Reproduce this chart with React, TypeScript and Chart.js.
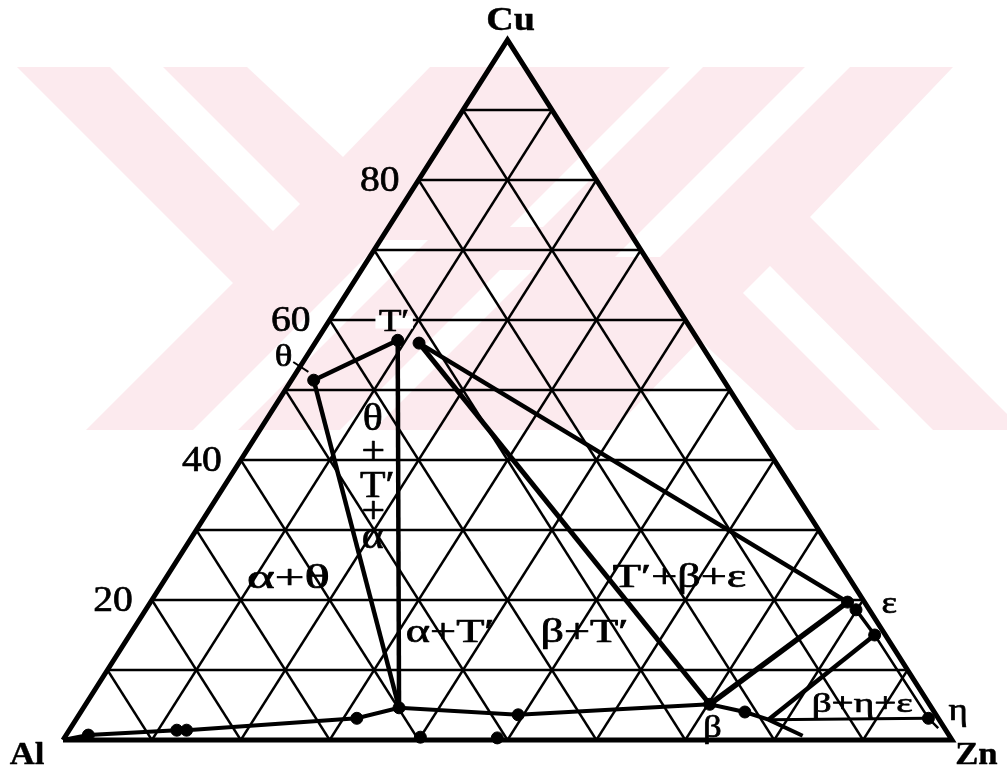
import React, { useEffect, useRef } from "react";
import { Chart, registerables } from "chart.js";
Chart.register(...registerables);

type Tern = [number, number]; // [Cu %, Zn %]  (Al = 100 - Cu - Zn)

// ---- axis structure ----
const CORNERS: Tern[] = [[0, 0], [0, 100], [100, 0]]; // Al, Zn, Cu
const GRID_LEVELS = [10, 20, 30, 40, 50, 60, 70, 80, 90];
const TICK_LEVELS = [20, 40, 60, 80];
const TICK_LABELS = ["20", "40", "60", "80"];

// ---- phase points (Cu %, Zn %) ----
const THETA: Tern = [51.4, 2.5];
const T_PRIME: Tern = [57.1, 9.1];
const T_PRIME_2: Tern = [56.7, 11.7];
const ALPHA: Tern = [4.6, 35.5];
const BETA: Tern = [5.1, 70.2];
const EPS_1: Tern = [19.7, 78.4];
const EPS_2: Tern = [18.6, 79.9];
const EPS_3: Tern = [15.0, 83.8];
const ETA: Tern = [3.1, 95.8];
const ETA_END: Tern = [1.7, 97.6];
const BETA_EDGE: Tern = [2.9, 77.9];

const LIQUIDUS: Tern[] = [[0, 0], [0.7, 2.5], [1.4, 12.1], [1.4, 13.2], [3.1, 31.5], ALPHA, [3.6, 49.4], BETA, [4.0, 74.7], BETA_EDGE, [0.6, 82.9]];
const EXTRA_POINTS: Tern[] = [[0.7, 2.5], [1.4, 12.1], [1.4, 13.2], [3.1, 31.5], [0.4, 40.0], [0.3, 48.7], [3.6, 49.4], [4.0, 74.7]];
const PHASE_POINTS: Tern[] = [THETA, T_PRIME, T_PRIME_2, ALPHA, BETA, EPS_1, EPS_2, EPS_3, ETA];
const THETA_LEADER: Tern[] = [[54.0, -1.1], [52.6, 1.3]];

// ---- labels ----
const CORNER_LABELS = ["Al", "Zn", "Cu"];
const CORNER_LABEL_POS: Tern[] = [[-2.3, -2.9], [-2.3, 103.9], [102.7, -1.0]];
const REGION_LABELS = ["α+θ", "α+T′", "β+T′", "T′+β+ε", "β+η+ε"];
const REGION_LABEL_POS: Tern[] = [[22.9, 13.9], [15.3, 35.9], [15.3, 51.0], [23.1, 57.8], [5.0, 87.4]];
const STACK_LABELS = ["θ", "+", "T′", "+", "α"];
const STACK_LABEL_POS: Tern[] = [[45.7, 12.0], [41.0, 14.4], [36.1, 17.3], [32.4, 18.7], [28.9, 20.4]];
const PHASE_LABELS = ["θ", "T′", "ε", "η", "β"];
const PHASE_LABEL_POS: Tern[] = [[54.6, -2.5], [59.7, 7.4], [19.3, 83.3], [4.0, 98.7], [1.7, 72.2]];

// ---- background watermark (decoration, canvas pixels) ----
const WM_PINK: number[][] = [[17, 67], [953, 67], [810, 217], [1007, 414], [1007, 430], [86, 430], [233, 283]];
const WM_CUTS: number[][][] = [
  [[110, 67], [163, 67], [300, 204], [273, 231]],
  [[247, 67], [430, 67], [343, 157]],
  [[933, 430], [880, 430], [743, 293], [770, 266]],
  [[796, 430], [613, 430], [700, 340]],
  [[670, 67], [703, 67], [543, 227], [510, 227]],
  [[805, 67], [850, 67], [660, 257], [615, 257]],
  [[373, 430], [340, 430], [500, 270], [533, 270]],
  [[238, 430], [193, 430], [383, 240], [428, 240]],
];

const FONT_FAMILY = '"Liberation Serif", "Times New Roman", Tinos, Times, serif';

const toXY = (t: Tern) => ({ x: (t[1] + t[0] / 2) / 100, y: t[0] / 100 });

function lineDs(pts: Tern[], width: number) {
  return {
    type: "scatter" as const,
    data: pts.map(toXY),
    showLine: true,
    borderColor: "#000",
    backgroundColor: "#000",
    borderWidth: width,
    pointRadius: 0,
    borderJoinStyle: "miter" as const,
    clip: false as any,
  };
}

export default function App() {
  const ref = useRef<HTMLCanvasElement>(null);
  useEffect(() => {
    const datasets: any[] = [];
    GRID_LEVELS.forEach((k) => {
      datasets.push(lineDs([[k, 0], [k, 100 - k]], 2.4));
      datasets.push(lineDs([[0, k], [100 - k, k]], 2.4));
      datasets.push(lineDs([[0, 100 - k], [100 - k, 0]], 2.4));
    });
    datasets.push(lineDs([...CORNERS, CORNERS[0]], 5));
    datasets.push(lineDs(LIQUIDUS, 4));
    datasets.push(lineDs([THETA, T_PRIME], 4.5));
    datasets.push(lineDs([THETA, ALPHA], 4.5));
    datasets.push(lineDs([T_PRIME, ALPHA], 4.5));
    datasets.push(lineDs([T_PRIME_2, EPS_1], 4.5));
    datasets.push(lineDs([T_PRIME_2, BETA], 5));
    datasets.push(lineDs([BETA, EPS_1], 5.5));
    datasets.push(lineDs([BETA_EDGE, EPS_3], 4.5));
    datasets.push(lineDs([BETA_EDGE, ETA], 3));
    datasets.push(lineDs([EPS_1, EPS_2, EPS_3], 3.5));
    datasets.push(lineDs([EPS_3, ETA, ETA_END], 2.5));
    datasets.push(lineDs(THETA_LEADER, 2));
    datasets.push({
      type: "scatter",
      data: [...PHASE_POINTS, ...EXTRA_POINTS].map(toXY),
      pointRadius: 6,
      pointBackgroundColor: "#000",
      pointBorderColor: "#000",
      showLine: false,
      clip: false,
    });

    const bgPlugin = {
      id: "bg",
      beforeDraw(chart: any) {
        const ctx = chart.ctx as CanvasRenderingContext2D;
        ctx.save();
        ctx.fillStyle = "#fff";
        ctx.fillRect(0, 0, chart.width, chart.height);
        const poly = (p: number[][], c: string) => {
          ctx.beginPath();
          p.forEach(([x, y], i) => (i ? ctx.lineTo(x, y) : ctx.moveTo(x, y)));
          ctx.closePath();
          ctx.fillStyle = c;
          ctx.fill();
        };
        poly(WM_PINK, "rgb(252,234,238)");
        WM_CUTS.forEach((p) => poly(p, "#fff"));
        ctx.restore();
      },
    };

    const labelPlugin = {
      id: "labels",
      afterDatasetsDraw(chart: any) {
        const ctx = chart.ctx as CanvasRenderingContext2D;
        const xs = chart.scales.x, ys = chart.scales.y;
        const px = (t: Tern) => {
          const p = toXY(t);
          return [xs.getPixelForValue(p.x), ys.getPixelForValue(p.y)];
        };
        const draw = (text: string, t: Tern, size: number, bold: boolean, sx: number, dx = 0, bg = false) => {
          const [x, y] = px(t);
          ctx.save();
          ctx.font = `${bold ? "bold " : ""}${size}px ${FONT_FAMILY}`;
          ctx.translate(x + dx, y);
          ctx.scale(sx, 1);
          ctx.textAlign = "center";
          ctx.textBaseline = "middle";
          if (bg) {
            const w = ctx.measureText(text).width;
            ctx.fillStyle = "#fff";
            ctx.fillRect(-w / 2 - 3, -size * 0.2, w + 6, size * 0.4);
          }
          ctx.fillStyle = "#000";
          ctx.strokeStyle = "#000";
          ctx.lineWidth = bold ? 0.4 : 0.7;
          ctx.lineJoin = "round";
          ctx.fillText(text, 0, 0);
          ctx.strokeText(text, 0, 0);
          ctx.restore();
        };
        CORNER_LABELS.forEach((s, i) => draw(s, CORNER_LABEL_POS[i], s === "Cu" ? 34 : 31, true, 1.12));
        TICK_LEVELS.forEach((k, i) => draw(TICK_LABELS[i], [k - 0.2, 0], 36, false, 1.1, -38));
        REGION_LABELS.forEach((s, i) => draw(s, REGION_LABEL_POS[i], i === 4 ? 28 : 33, false, i === 0 ? 1.6 : 1.4));
        STACK_LABELS.forEach((s, i) => draw(s, STACK_LABEL_POS[i], 38, false, 1.1));
        PHASE_LABELS.forEach((s, i) => draw(s, PHASE_LABEL_POS[i], 32, false, 1.15, 0, s === "T′"));
      },
    };

    const chart = new Chart(ref.current!, {
      type: "scatter",
      data: { datasets },
      options: {
        animation: false,
        responsive: false,
        devicePixelRatio: 1,
        layout: { padding: { left: 63, right: 55, top: 40, bottom: 31 } },
        scales: {
          x: { type: "linear", min: 0, max: 1, display: false },
          y: { type: "linear", min: 0, max: 1, display: false },
        },
        plugins: { legend: { display: false }, tooltip: { enabled: false } },
        events: [],
      },
      plugins: [bgPlugin, labelPlugin],
    } as any);
    let alive = true;
    const fonts = (document as any).fonts;
    if (fonts && fonts.load) {
      Promise.all([
        fonts.load('36px "Liberation Serif"', "80αθβηεT′"),
        fonts.load('bold 34px "Liberation Serif"', "CuAlZn"),
      ])
        .then(() => { if (alive) chart.update(); })
        .catch(() => {});
    }
    return () => { alive = false; chart.destroy(); };
  }, []);
  return (
    <div style={{ position: "fixed", left: 0, top: 0, width: 1007, height: 771, background: "#fff" }}>
      <canvas ref={ref} width={1007} height={771} style={{ width: 1007, height: 771, display: "block" }} />
    </div>
  );
}
